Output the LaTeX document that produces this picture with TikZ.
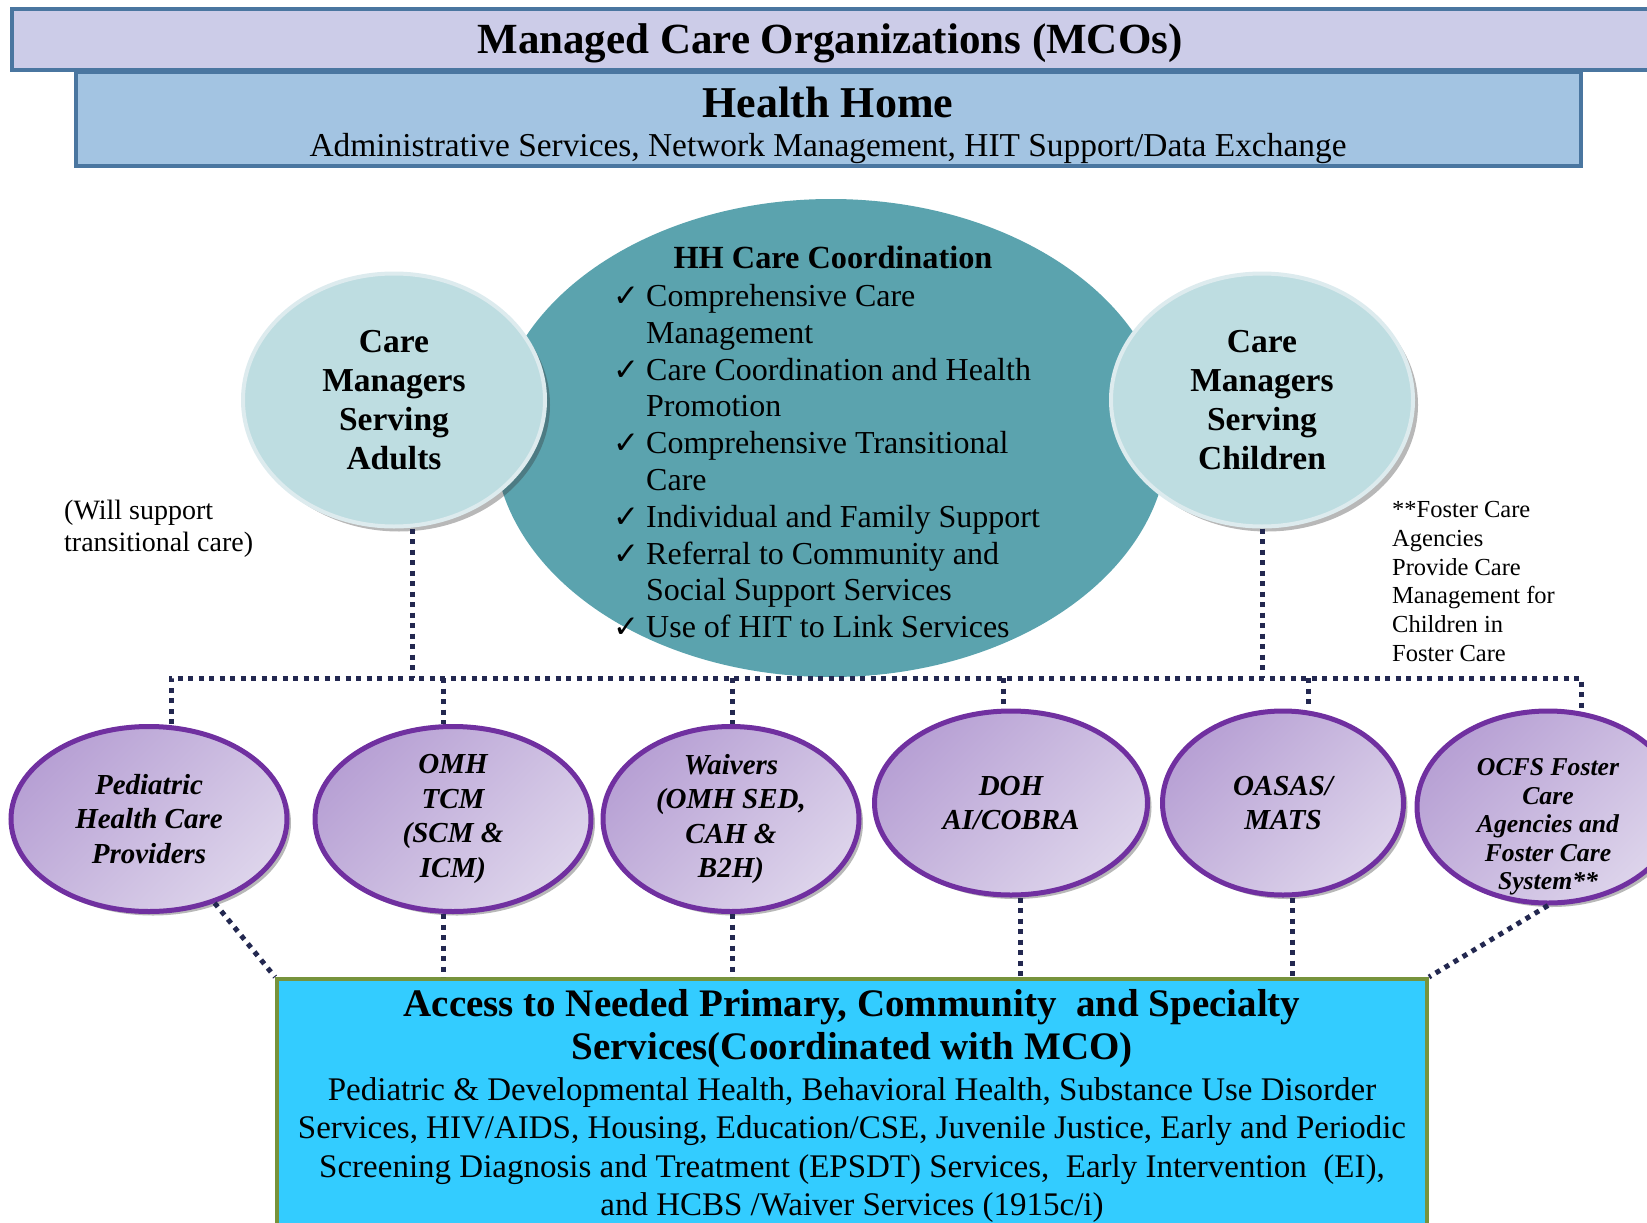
\documentclass[tikz,border=0pt]{standalone}
\usepackage{fontspec}
\setmainfont{Liberation Serif}
\newfontfamily\symfont{DejaVu Sans}
\usetikzlibrary{shapes.geometric,shadows}

\definecolor{mcolav}{HTML}{CCCCE8}
\definecolor{hhblue}{HTML}{A3C4E2}
\definecolor{framebl}{HTML}{4A76A0}
\definecolor{hhteal}{HTML}{5BA3AE}
\definecolor{cmfill}{HTML}{BEDDE1}
\definecolor{cmrim}{HTML}{DDEBEE}
\definecolor{agrim}{HTML}{7030A0}
\definecolor{agdark}{HTML}{B7A0D4}
\definecolor{aglite}{HTML}{DDD4EB}
\definecolor{dotnavy}{HTML}{232850}
\definecolor{accfill}{HTML}{33CCFF}
\definecolor{accrim}{HTML}{77933C}

\newcommand{\chk}{\makebox[33pt][l]{\symfont\fontsize{31}{31}\selectfont ✓}}
\newcommand{\ind}{\hspace*{33pt}}

\begin{document}
\begin{tikzpicture}[x=1pt, y=-1pt,
    bar/.style={draw=framebl, line width=4pt, inner sep=0pt, anchor=north west},
    link/.style={draw=dotnavy, line width=5pt, dash pattern=on 5pt off 5.5pt},
    carers/.style={ellipse, fill=cmfill, draw=cmrim, line width=4pt,
        minimum width=302pt, minimum height=253pt, inner sep=0pt, align=center,
        font=\fontsize{33.5}{38.8}\selectfont\bfseries,
        drop shadow={shadow xshift=5pt, shadow yshift=-5pt, opacity=.35, fill=black!80}},
    agency/.style={ellipse, draw=agrim, line width=5pt, left color=agdark, right color=aglite,
        shading angle=45, inner xsep=0pt, inner ysep=-20pt, align=center,
        font=\fontsize{29}{34.5}\selectfont\bfseries\itshape,
        drop shadow={shadow xshift=4pt, shadow yshift=-4pt, opacity=.35, fill=black!80}},
    note/.style={anchor=north west, align=left, inner sep=0pt}]
    \useasboundingbox (0,0) rectangle (1647,1223);

    % Draw the two top bars
    \node[bar, fill=mcolav, minimum width=1650pt, minimum height=61pt] (mco) at (10,7) {};
    \node[font=\fontsize{43}{50}\selectfont\bfseries] (mconame) at (830,43) {Managed Care Organizations (MCOs)};
    \node[bar, fill=hhblue, minimum width=1505pt, minimum height=94pt] (hh) at (74,70) {};
    \node[font=\fontsize{44}{50}\selectfont\bfseries] (hhname) at (828,102) {Health Home};
    \node[font=\fontsize{33.4}{38}\selectfont] (hhsub) at (828,149) {Administrative Services, Network Management, HIT Support/Data Exchange};

    % Central care coordination ellipse
    \node[ellipse, fill=hhteal, minimum width=674pt, minimum height=478pt] (hub) at (831,438) {};
    \node[font=\fontsize{32.3}{37}\selectfont\bfseries] (hubtitle) at (833,257) {HH Care Coordination};
    \node[note, font=\fontsize{32}{36.8}\selectfont] (hublist) at (613,284) {\chk Comprehensive Care\\
        \ind Management\\
        \chk Care Coordination and Health\\
        \ind Promotion\\
        \chk Comprehensive Transitional\\
        \ind Care\\
        \chk Individual and Family Support\\
        \chk Referral to Community and\\
        \ind Social Support Services\\
        \chk Use of HIT to Link Services};

    % Care managers on both sides
    \node[carers] (adults) at (394,400) {Care\\Managers\\Serving\\Adults};
    \node[carers] (children) at (1262,400) {Care\\Managers\\Serving\\Children};

    % Side notes
    \node[note, font=\fontsize{28}{31.5}\selectfont] (willnote) at (64,500) {(Will support\\transitional care)};
    \node[note, font=\fontsize{24.5}{28.8}\selectfont] (fosternote) at (1392,501) {**Foster Care\\Agencies\\Provide Care\\Management for\\Children in\\Foster Care};

    % Agencies row
    \node[agency, minimum width=276pt, minimum height=185pt] (ped) at (149,819) {Pediatric\\Health Care\\Providers};
    \node[agency, minimum width=276pt, minimum height=185pt] (omh) at (453,819) {OMH\\TCM\\(SCM \&\\ICM)};
    \node[agency, minimum width=256pt, minimum height=185pt] (waiv) at (731,819) {Waivers\\(OMH SED,\\CAH \&\\B2H)};
    \node[agency, minimum width=273pt, minimum height=184pt] (doh) at (1011,803) {DOH\\AI/COBRA};
    \node[agency, minimum width=241pt, minimum height=184pt] (oasas) at (1283,803) {OASAS/\\MATS};
    \node[agency, minimum width=262pt, minimum height=192pt,
        label={[name=ocfstxt, align=center, yshift=-20pt, font=\fontsize{25.7}{28.5}\selectfont\bfseries\itshape]center:{OCFS Foster\\Care\\Agencies and\\Foster Care\\System**}}] (ocfs) at (1548,807) {};

    % Access box
    \node[bar, draw=accrim, fill=accfill, minimum width=1150pt, minimum height=280pt] (access) at (275,977) {};
    \node[align=center, font=\fontsize{39}{43}\selectfont\bfseries] (acchead) at (852,1029) {Access to Needed Primary, Community\ \ and Specialty\\Services(Coordinated with MCO)};
    \node[align=center, font=\fontsize{33}{38.2}\selectfont] (accbody) at (852,1150) {Pediatric \& Developmental Health, Behavioral Health, Substance Use Disorder\\
        Services, HIV/AIDS, Housing, Education/CSE, Juvenile Justice, Early and Periodic\\
        Screening Diagnosis and Treatment (EPSDT) Services,\ \ Early Intervention\ \ (EI),\\
        and HCBS /Waiver Services (1915c/i)};

    % Dotted connectors
    \foreach \nm/\tx in {ped/171,adults/412,omh/443,waiv/732,doh/1003,children/1262,oasas/1308,ocfs/1581}
        \coordinate (t\nm) at (\tx,678);
    \draw[link] (ped.north -| tped) -- (tped) -- (tocfs) -- (ocfs.north -| tocfs);
    \draw[link] (adults.south -| tadults) -- (tadults);
    \draw[link] (children.south -| tchildren) -- (tchildren);
    \foreach \nm in {omh,waiv,doh,oasas}
        \draw[link] (t\nm) -- (t\nm |- \nm.north);
    \foreach \nm/\bx in {omh/443,waiv/732,doh/1020,oasas/1292} {
        \coordinate (b\nm) at (\bx,0);
        \draw[link] (\nm.south -| b\nm) -- (b\nm |- access.north);
    }
    \draw[link] (ped.-52) -- (access.north west);
    \draw[link] (ocfs.south) -- (access.north east);
\end{tikzpicture}
\end{document}
